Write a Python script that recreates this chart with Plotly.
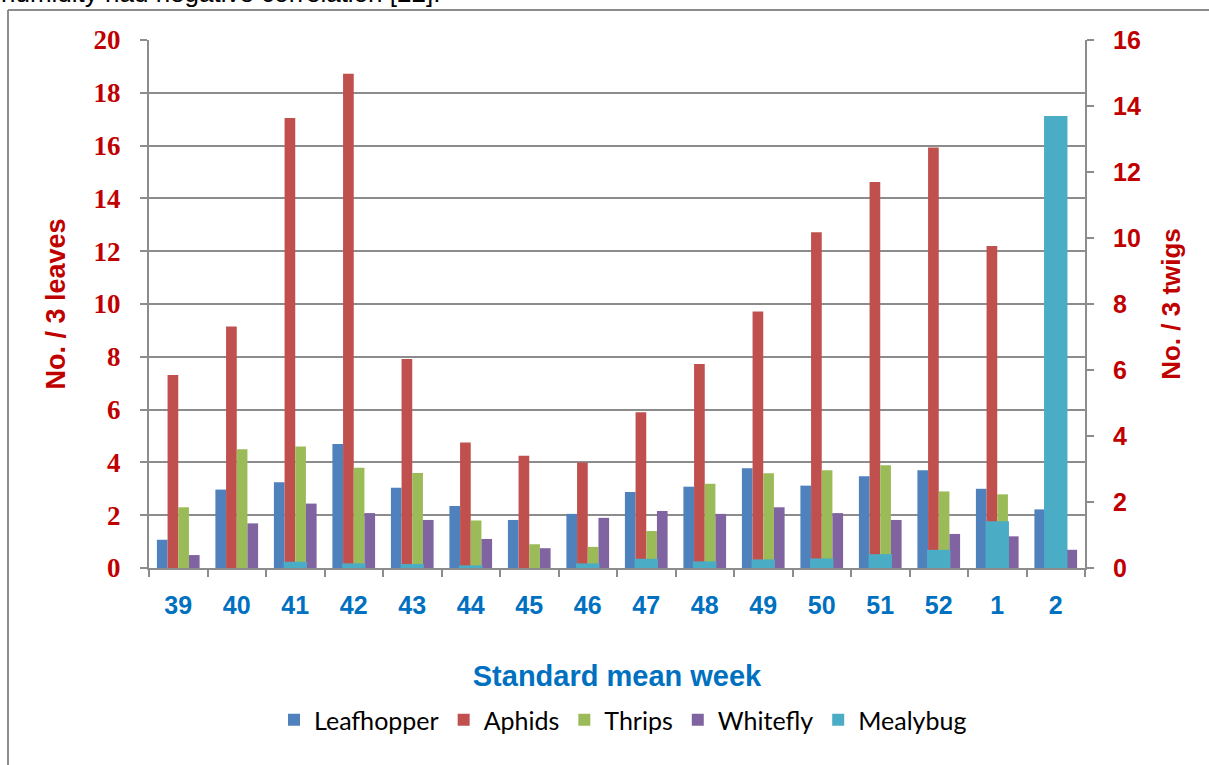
import plotly.graph_objects as go

weeks = ["39", "40", "41", "42", "43", "44", "45", "46", "47", "48", "49", "50", "51", "52", "1", "2"]
leafhopper = [1.07, 2.97, 3.25, 4.70, 3.04, 2.35, 1.82, 2.05, 2.88, 3.08, 3.78, 3.12, 3.48, 3.70, 3.00, 2.22]
aphids = [7.31, 9.15, 17.05, 18.72, 7.92, 4.75, 4.25, 4.00, 5.90, 7.73, 9.72, 12.72, 14.62, 15.93, 12.20, None]
thrips = [2.30, 4.50, 4.60, 3.80, 3.60, 1.80, 0.90, 0.80, 1.40, 3.19, 3.59, 3.70, 3.89, 2.90, 2.79, None]
whitefly = [0.49, 1.69, 2.44, 2.08, 1.82, 1.10, 0.75, 1.90, 2.16, 2.05, 2.30, 2.08, 1.82, 1.29, 1.20, 0.69]
mealybug = [0.0, 0.0, 0.19, 0.14, 0.12, 0.08, 0.0, 0.14, 0.28, 0.20, 0.26, 0.29, 0.42, 0.55, 1.42, 13.70]

left_ticks = [0, 2, 4, 6, 8, 10, 12, 14, 16, 18, 20]
right_ticks = [0, 2, 4, 6, 8, 10, 12, 14, 16]

W, H = 1209, 765
L, R, T, B = 149, 1085, 40, 568

def px(x):
    return (x - L) / (R - L)

def py(y):
    return (B - y) / (B - T)

fig = go.Figure()
series = [("Leafhopper", leafhopper, "#4F81BD"), ("Aphids", aphids, "#C0504D"),
          ("Thrips", thrips, "#9BBB59"), ("Whitefly", whitefly, "#8064A2")]
for name, vals, col in series:
    fig.add_trace(go.Bar(x=weeks, y=vals, name=name, marker_color=col,
                         marker_line_width=0))
fig.add_trace(go.Bar(x=weeks, y=mealybug, name="Mealybug", marker_color="#4BACC6",
                     marker_line_width=0, yaxis="y2", width=0.4))

grid = "#8C8C8C"
fig.update_layout(
    width=W, height=H,
    margin=dict(l=L, r=W - R, t=T, b=H - B),
    paper_bgcolor="white", plot_bgcolor="white",
    barmode="group", bargap=0.27, bargroupgap=0,
    xaxis=dict(type="category", tickson="boundaries", ticks="outside", ticklen=7,
               tickcolor=grid, tickwidth=2, showline=True, linecolor=grid, linewidth=2,
               showgrid=False, ticklabelstandoff=14,
               tickfont=dict(family="Arial, Liberation Sans", size=25, color="#0070C0", weight="bold"),
               title=dict(text="<b>Standard mean week</b>", standoff=48,
                          font=dict(family="Arial, Liberation Sans", size=29, color="#0070C0"))),
    yaxis=dict(range=[0, 20], tickvals=left_ticks, ticks="outside", ticklen=7,
               tickcolor=grid, tickwidth=2, showline=True, linecolor=grid, linewidth=2,
               showgrid=True, gridcolor=grid, gridwidth=2, zeroline=False,
               ticklabelstandoff=14,
               tickfont=dict(family="Liberation Serif, Times New Roman", size=27, color="#C00000", weight="bold"),
               title=dict(text="<b>No. / 3 leaves</b>", standoff=20,
                          font=dict(family="Arial, Liberation Sans", size=27, color="#C00000"))),
    yaxis2=dict(range=[0, 16], tickvals=right_ticks, overlaying="y", side="right",
                ticks="outside", ticklen=7, tickcolor=grid, tickwidth=2,
                showline=True, linecolor=grid, linewidth=2, showgrid=False, zeroline=False,
                ticklabelstandoff=14,
                tickfont=dict(family="Arial, Liberation Sans", size=25, color="#C00000", weight="bold"),
                title=dict(text="<b>No. / 3 twigs</b>", standoff=22,
                           font=dict(family="Arial, Liberation Sans", size=26, color="#C00000"))),
    legend=dict(orientation="h", x=px(623), xanchor="center", y=py(720), yanchor="middle",
                font=dict(family="Lato, Carlito", size=25, color="black"),
                itemwidth=30, traceorder="normal", bgcolor="rgba(0,0,0,0)"),
    showlegend=True,
)

# outer frame lines (left and top)
fig.add_shape(type="line", xref="paper", yref="paper", x0=px(8), x1=px(1215),
              y0=py(10), y1=py(10), line=dict(color="#8C8C8C", width=2))
fig.add_shape(type="line", xref="paper", yref="paper", x0=px(8), x1=px(8),
              y0=py(10), y1=py(770), line=dict(color="#8C8C8C", width=2))

# cropped text line at very top
fig.add_annotation(text="humidity had negative correlation [22].", xref="paper", yref="paper",
                   x=px(-1), y=py(-7), xanchor="left", yanchor="middle", showarrow=False,
                   font=dict(family="Arial, Liberation Sans", size=26, color="black"))

fig.write_html("out.html", config={"displayModeBar": False},
               post_script="document.body.style.margin='0';document.body.style.overflow='hidden';")
